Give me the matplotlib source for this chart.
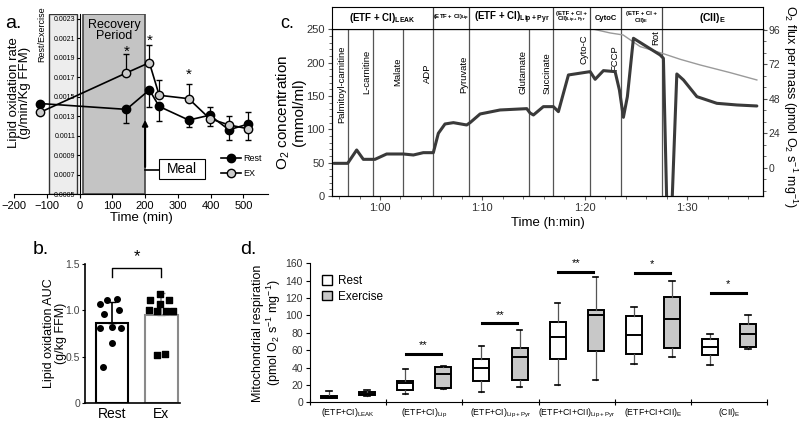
import numpy as np
import matplotlib
matplotlib.use("Agg")
import matplotlib.pyplot as plt
from matplotlib.patches import Rectangle, Patch
from matplotlib.ticker import FormatStrFormatter, MultipleLocator

plt.rcParams["font.family"] = ["Liberation Sans", "DejaVu Sans"]
plt.rcParams["mathtext.default"] = "regular"

# a. lipid oxidation time course
time_min = [-120, 143, 213, 243, 333, 397, 456, 515]
rest_rate = [0.00143, 0.00137, 0.00157, 0.00140, 0.00126, 0.00131, 0.00116, 0.00122]
rest_err_lo = [0, 0.000137, 0.00018, 0.000154, 0.000075, 0, 0.0001, 0]
rest_err_hi = [0, 0, 0, 0, 0, 0.00008, 0, 0.00012]
ex_rate = [0.00134, 0.001745, 0.00185, 0.001515, 0.00148, 0.001275, 0.00121, 0.00117]
ex_err_lo = [0, 0, 0, 0, 0, 0.00008, 0, 0.00011]
ex_err_hi = [0, 0.00019, 0.00018, 0.00016, 0.000147, 0, 0.00009, 0]
star_time = [143, 213, 333]
star_rate = [0.00196, 0.00208, 0.00173]

# b. lipid oxidation AUC
auc_groups = ["Rest", "Ex"]
auc_mean = [0.863, 0.946]
auc_sd = [0.223, 0.24]
rest_auc = [1.115, 1.126, 1.072, 1.007, 0.957, 0.814, 0.82, 0.814, 0.648, 0.39]
rest_jitter = [-0.1, 0.1, -0.24, 0.15, -0.16, -0.24, -0.01, 0.18, -0.01, -0.18]
ex_auc = [1.18, 1.108, 1.108, 1.072, 1.0, 0.993, 0.993, 0.993, 0.516, 0.527]
ex_jitter = [-0.03, -0.23, 0.16, -0.03, -0.25, -0.08, 0.09, 0.24, -0.09, 0.07]

# c. respirometry trace (time in minutes)
trace_t = [55.50, 56.84, 57.72, 58.37, 59.51, 60.65, 62.28, 63.26, 64.23,
           65.21, 65.70, 66.35, 67.17, 68.47, 68.80, 69.78, 71.73, 74.34,
           74.66, 74.99, 75.96, 76.94, 77.43, 78.41, 80.53, 81.02, 81.83,
           82.97, 83.39, 83.78, 84.17, 84.76, 87.37, 87.69, 88.03, 88.51,
           89.00, 89.65, 90.96, 92.91, 94.87, 96.82]
trace_o2 = [49, 49, 69, 55, 55, 63, 63, 61.5, 65,
            65, 94, 108, 110, 106.5, 110, 123, 129, 131,
            124.5, 121.5, 134, 134, 126.5, 181.5, 186.5, 175, 188,
            186.5, 159, 118, 149, 236.5, 211.5, 206.5, -20, -20,
            183, 174, 149, 139, 136.5, 135]
conc_t = [80.9, 82.48, 83.75, 85.42, 87.57, 89.33, 91.28, 94.21, 96.82]
conc_val = [250, 244.5, 241.5, 224, 214, 205, 196.5, 185, 174]
event_t = [56.84, 59.29, 62.28, 65.21, 68.73, 74.59, 76.94, 80.53, 83.53, 87.54]
event_names = ["Palmitoyl-carnitine", "L-carnitine", "Malate", "ADP", "Pyruvate",
               "Glutamate", "Succinate", "Cyto-C", "FCCP", "Rot"]
event_label_top = [226, 219, 207, 198, 211, 219, 216, 243, 226, 249]
section_edges = [55.31, 65.21, 68.73, 76.94, 80.53, 83.53, 87.54, 97.44]
section_names = ["(ETF + CI)$_{LEAK}$", "(ETF + CI)$_{Lip}$", "(ETF + CI)$_{Lip+Pyr}$",
                 "(ETF + CI +\nCII)$_{Lip+Pyr}$", "CytoC", "(ETF + CI +\nCII)$_{E}$",
                 "(CII)$_{E}$"]
section_font = [7, 4.3, 7, 4.3, 5.5, 4.3, 7.5]

# d. mitochondrial respiration
resp_groups = ["(ETF+CI)$_{LEAK}$", "(ETF+CI)$_{Lip}$", "(ETF+CI)$_{Lip+Pyr}$",
               "(ETF+CI+CII)$_{Lip+Pyr}$", "(ETF+CI+CII)$_{E}$", "(CII)$_{E}$"]
rest_lo = [4.5, 10, 12, 20, 44, 43]
rest_q1 = [5.5, 14, 25, 50, 56, 54]
rest_med = [6.5, 22, 39, 75, 78, 63.5]
rest_q3 = [7.5, 24, 50, 92, 99, 72.5]
rest_hi = [12.5, 38, 65, 114, 110, 78.5]
ex_lo = [7.5, 15.5, 18, 26, 52, 61]
ex_q1 = [8.5, 17, 26, 59, 62, 64]
ex_med = [10, 33, 52, 100, 96, 78.5]
ex_q3 = [12, 41, 63, 106, 121, 90]
ex_hi = [14.5, 42, 83, 144, 140, 101]
sig_group = [1, 2, 3, 4, 5]
sig_level = [56, 91, 150, 149, 126]
sig_mark = ["**", "**", "**", "*", "*"]


def draw_panel_a(fig):
    ax = fig.add_axes([0.0175, 0.5435, 0.3175, 0.4235])
    ax.set_xlim(-200, 575)
    ax.set_ylim(0.0005, 0.00235)

    ax.add_patch(Rectangle((-94, 0.0005), 87, 0.00185, facecolor="#ededed",
                           edgecolor="#333333", lw=1.0, zorder=0))
    ax.add_patch(Rectangle((12, 0.0005), 188, 0.00185, facecolor="#c4c4c4",
                           edgecolor="#444444", lw=1.2, zorder=0))
    ax.text(105, 0.00218, "Recovery\nPeriod", ha="center", va="center",
            fontsize=9, linespacing=0.95)

    ax.spines["top"].set_visible(False)
    ax.spines["right"].set_visible(False)
    ax.spines["left"].set_position(("data", 0))
    ax.set_yticks(np.arange(0.0005, 0.00231, 0.0002))
    ax.yaxis.set_major_formatter(FormatStrFormatter("%.4f"))
    ax.tick_params(axis="y", labelsize=5, length=2, pad=1)
    ax.set_xticks(range(-200, 501, 100))
    ax.tick_params(axis="x", labelsize=8, length=3, pad=2)

    ax.errorbar(time_min, rest_rate, yerr=[rest_err_lo, rest_err_hi], fmt="none",
                ecolor="black", elinewidth=0.9, capsize=2.5, zorder=2)
    ax.errorbar(time_min, ex_rate, yerr=[ex_err_lo, ex_err_hi], fmt="none",
                ecolor="black", elinewidth=0.9, capsize=2.5, zorder=2)
    ax.plot(time_min, rest_rate, "-o", color="black", mfc="black", mec="black",
            ms=6, lw=1.2, label="Rest", zorder=3)
    ax.plot(time_min, ex_rate, "-o", color="black", mfc="#cccccc", mec="black",
            ms=6, lw=1.2, label="EX", zorder=3)

    for t, y in zip(star_time, star_rate):
        ax.text(t, y, "*", ha="center", va="center", fontsize=11)

    ax.annotate("", xy=(200, 0.00129), xytext=(200, 0.00075),
                arrowprops=dict(arrowstyle="-|>", color="black", lw=1.5,
                                mutation_scale=8))
    ax.plot([200, 242], [0.00075, 0.00075], color="black", lw=1.2)
    ax.add_patch(Rectangle((242, 0.00065), 141, 0.00021, facecolor="white",
                           edgecolor="black", lw=0.8, zorder=3))
    ax.text(312, 0.000755, "Meal", ha="center", va="center", fontsize=10, zorder=4)

    ax.legend(loc="upper left", bbox_to_anchor=(0.80, 0.24), frameon=False,
              fontsize=6.5, handlelength=2.2, handletextpad=0.3,
              labelspacing=0.6, borderaxespad=0)
    ax.set_xlabel("Time (min)", fontsize=9.5, labelpad=1)

    fig.text(0.0245, 1 - 93 / 425, "Lipid oxidation rate\n(g/min/Kg FFM)",
             rotation=90, ha="center", va="center", fontsize=9.5, linespacing=0.95)
    fig.text(42 / 800, 1 - 34 / 425, "Rest/Exercise", rotation=90,
             ha="center", va="center", fontsize=6.5)
    fig.text(5 / 800, 1 - 23 / 425, "a.", ha="left", va="center", fontsize=14)


def draw_panel_b(fig):
    ax = fig.add_axes([0.10625, 0.0518, 0.11875, 0.327])
    ax.set_xlim(-0.55, 1.38)
    ax.set_ylim(0, 1.5)
    ax.bar(0, auc_mean[0], width=0.66, facecolor="white", edgecolor="black", lw=1.5, zorder=1)
    ax.bar(1, auc_mean[1], width=0.66, facecolor="white", edgecolor="#8a8a8a", lw=1.5, zorder=1)
    ax.errorbar([0], [auc_mean[0]], yerr=[[0], [auc_sd[0]]], fmt="none",
                ecolor="black", elinewidth=1.2, capsize=3, zorder=2)
    ax.errorbar([1], [auc_mean[1]], yerr=[[0], [auc_sd[1]]], fmt="none",
                ecolor="#8a8a8a", elinewidth=1.2, capsize=3, zorder=2)
    ax.scatter(np.array(rest_jitter), rest_auc, s=16, marker="o", color="black", zorder=3)
    ax.scatter(1 + np.array(ex_jitter), ex_auc, s=14, marker="s", color="black", zorder=3)

    ax.plot([0, 0, 1, 1], [1.36, 1.46, 1.46, 1.36], color="black", lw=1)
    ax.text(0.5, 1.50, "*", ha="center", va="bottom", fontsize=12)

    for s in ["top", "right"]:
        ax.spines[s].set_visible(False)
    for s in ["left", "bottom"]:
        ax.spines[s].set_linewidth(1.2)
    ax.set_yticks([0, 0.5, 1.0, 1.5])
    ax.set_yticklabels(["0", "0.5", "1.0", "1.5"])
    ax.tick_params(axis="y", labelsize=7.5, labelcolor="#444444", length=2.5, pad=1)
    ax.set_xticks([0, 1])
    ax.set_xticklabels(auc_groups, fontsize=10)
    ax.tick_params(axis="x", length=0, pad=3)
    ax.set_ylabel("Lipid oxidation AUC\n(g/kg FFM)", fontsize=9, linespacing=1.0)
    ax.yaxis.set_label_coords(-0.19, 0.5)
    fig.text(33 / 800, 1 - 250 / 425, "b.", ha="left", va="center", fontsize=14)


def draw_panel_c(fig):
    ax = fig.add_axes([0.415, 0.5388, 0.539, 0.3923])
    ax.set_xlim(section_edges[0], section_edges[-1])
    ax.set_ylim(0, 250)

    for t in event_t:
        ax.axvline(t, color="#555555", lw=0.9, zorder=1)
    for t, top, name in zip(event_t, event_label_top, event_names):
        ax.text(t - 0.15, top, name, rotation=90, ha="right", va="top", fontsize=6.8)

    ax.plot(conc_t, conc_val, color="#9a9a9a", lw=1.0, zorder=2)
    ax.plot(trace_t, trace_o2, color="#3a3a3a", lw=2.2, zorder=3,
            solid_joinstyle="round", solid_capstyle="round")

    ax.set_xticks([60, 70, 80, 90])
    ax.set_xticklabels(["1:00", "1:10", "1:20", "1:30"], fontsize=8)
    ax.xaxis.set_minor_locator(MultipleLocator(2))
    ax.set_yticks(range(0, 251, 50))
    ax.yaxis.set_minor_locator(MultipleLocator(10))
    ax.tick_params(axis="both", which="major", labelsize=8, length=3, pad=2,
                   color="#555555", labelcolor="#333333")
    ax.tick_params(axis="both", which="minor", length=2, color="#555555")
    ax.set_xlabel("Time (h:min)", fontsize=9.5, labelpad=3)
    ax.set_ylabel("O$_2$ concentration\n(mmol/ml)", fontsize=11, linespacing=1.0)
    ax.yaxis.set_label_coords(-0.06, 0.5)

    twin = ax.twinx()
    twin.set_ylim(-19.5, 96.5)
    twin.set_yticks([0, 24, 48, 72, 96])
    twin.yaxis.set_minor_locator(MultipleLocator(8))
    twin.tick_params(axis="y", which="major", labelsize=7.5, length=3, pad=1,
                     color="#555555", labelcolor="#333333")
    twin.tick_params(axis="y", which="minor", length=2, color="#555555")
    twin.set_ylabel("O$_2$ flux per mass (pmol O$_2$ s$^{-1}$ mg$^{-1}$)",
                    rotation=-90, va="center", ha="center", fontsize=9)
    twin.yaxis.set_label_coords(1.0626, 0.534)

    head = fig.add_axes([0.415, 0.931, 0.539, 0.0525])
    head.set_xlim(section_edges[0], section_edges[-1])
    head.set_ylim(0, 1)
    head.set_xticks([])
    head.set_yticks([])
    for t in section_edges[1:-1]:
        head.axvline(t, color="#444444", lw=0.9)
    for i, name in enumerate(section_names):
        mid = (section_edges[i] + section_edges[i + 1]) / 2
        head.text(mid, 0.5, name, ha="center", va="center",
                  fontsize=section_font[i], fontweight="bold", linespacing=0.9)

    fig.text(280 / 800, 1 - 24 / 425, "c.", ha="left", va="center", fontsize=13)


def draw_panel_d(fig):
    ax = fig.add_axes([0.3875, 0.0534, 0.5715, 0.327])
    ax.set_xlim(-0.5, 5.5)
    ax.set_ylim(0, 160)

    rest_stats = []
    ex_stats = []
    for i in range(len(resp_groups)):
        rest_stats.append(dict(whislo=rest_lo[i], q1=rest_q1[i], med=rest_med[i],
                               q3=rest_q3[i], whishi=rest_hi[i], fliers=[]))
        ex_stats.append(dict(whislo=ex_lo[i], q1=ex_q1[i], med=ex_med[i],
                             q3=ex_q3[i], whishi=ex_hi[i], fliers=[]))

    common = dict(widths=0.21, capwidths=0.07, patch_artist=True, showfliers=False,
                  medianprops=dict(color="black", lw=1.4),
                  whiskerprops=dict(color="#555555", lw=0.9),
                  capprops=dict(color="black", lw=1.2), manage_ticks=False)
    pos = np.arange(len(resp_groups))
    ax.bxp(rest_stats, positions=pos - 0.25,
           boxprops=dict(facecolor="white", edgecolor="black", lw=1.4), **common)
    ax.bxp(ex_stats, positions=pos + 0.25,
           boxprops=dict(facecolor="#c8c8c8", edgecolor="black", lw=1.4), **common)

    for g, y, mark in zip(sig_group, sig_level, sig_mark):
        ax.plot([g - 0.24, g + 0.22], [y, y], color="black", lw=2.2)
        ax.text(g - 0.01, y + 4, mark, ha="center", va="bottom", fontsize=8)

    ax.spines["top"].set_visible(False)
    ax.spines["right"].set_visible(False)
    ax.set_yticks(range(0, 161, 20))
    ax.tick_params(axis="y", labelsize=7.5, labelcolor="#333333", length=3, pad=2)
    ax.set_xticks(np.arange(-0.5, 6, 1))
    ax.set_xticklabels([])
    ax.tick_params(axis="x", which="major", direction="inout", length=4)
    ax.set_xticks(pos, minor=True)
    ax.set_xticklabels(resp_groups, minor=True, fontsize=6.3)
    ax.tick_params(axis="x", which="minor", length=0, pad=3)
    ax.set_ylabel("Mitochondrial respiration\n(pmol O$_2$ s$^{-1}$ mg$^{-1}$)",
                  fontsize=9, linespacing=1.0)
    ax.yaxis.set_label_coords(-0.06, 0.5)

    handles = [Patch(facecolor="white", edgecolor="black", lw=1),
               Patch(facecolor="#c8c8c8", edgecolor="black", lw=1)]
    ax.legend(handles, ["Rest", "Exercise"], loc="upper left",
              bbox_to_anchor=(0.015, 0.95), frameon=False, fontsize=8.5,
              handlelength=0.9, handleheight=0.9, handletextpad=0.5,
              labelspacing=0.3, borderaxespad=0)
    fig.text(240 / 800, 1 - 250 / 425, "d.", ha="left", va="center", fontsize=14)


def main():
    fig = plt.figure(figsize=(8, 4.25), dpi=100)
    draw_panel_a(fig)
    draw_panel_b(fig)
    draw_panel_c(fig)
    draw_panel_d(fig)
    fig.savefig("out.png", dpi=100)
    plt.close(fig)


if __name__ == "__main__":
    main()
